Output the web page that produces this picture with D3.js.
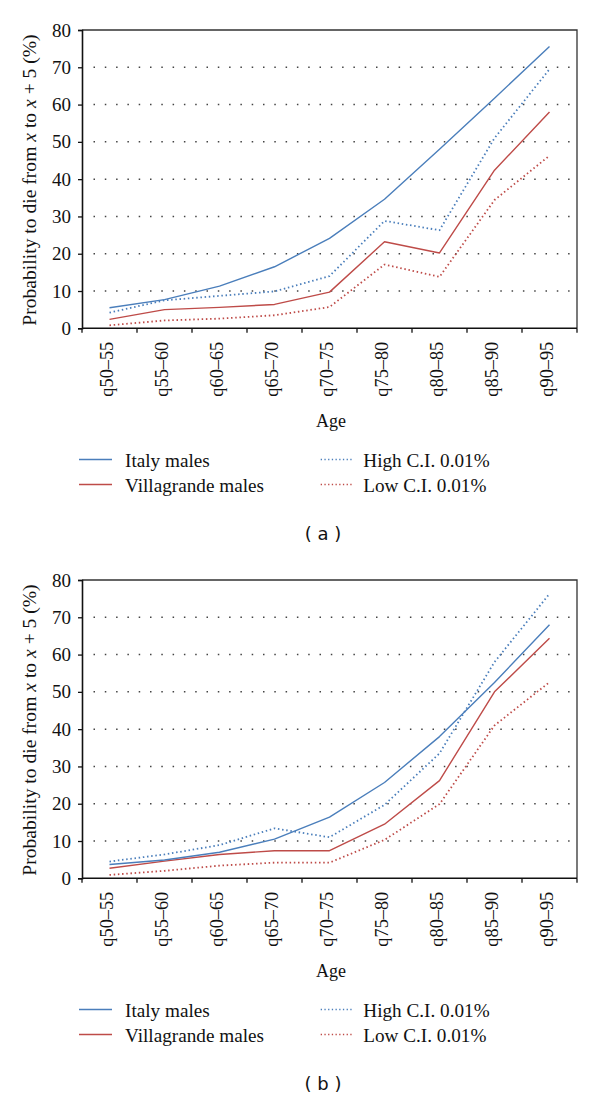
<!DOCTYPE html>
<html>
<head>
<meta charset="utf-8">
<script src="https://cdn.jsdelivr.net/npm/d3@7"></script>
<style>
  html, body { margin: 0; padding: 0; background: #fff; }
  svg { display: block; }
</style>
</head>
<body>
<svg id="chart" width="600" height="1100"></svg>
<script>
// ---- Data ----
const categories = ["q50–55","q55–60","q60–65","q65–70","q70–75","q75–80","q80–85","q85–90","q90–95"];
const yTicks = [0,10,20,30,40,50,60,70,80];

// Panel (a)
const italyA      = [5.5, 7.7, 11.3, 16.5, 24.1, 34.6, 48.0, 61.7, 75.6];
const villagrandeA= [2.4, 5.0, 5.6, 6.4, 9.7, 23.2, 20.2, 42.4, 58.0];
const highCIA     = [4.2, 7.5, 8.7, 9.9, 14.0, 28.8, 26.3, 51.0, 69.5];
const lowCIA      = [0.8, 2.1, 2.6, 3.5, 5.7, 17.1, 13.8, 34.4, 46.3];

// Panel (b)
const italyB      = [3.7, 4.9, 7.0, 10.5, 16.4, 25.7, 38.0, 52.5, 68.0];
const villagrandeB= [2.7, 4.6, 6.4, 7.4, 7.4, 14.5, 26.2, 50.0, 64.4];
const highCIB     = [4.5, 6.4, 8.9, 13.4, 11.0, 19.7, 33.5, 58.0, 76.3];
const lowCIB      = [0.9, 2.0, 3.4, 4.2, 4.2, 10.3, 19.9, 41.0, 52.6];

const legendLabels = ["Italy males","Villagrande males","High C.I. 0.01%","Low C.I. 0.01%"];
const panelLabels = ["( a )","( b )"];

// ---- Styles ----
const BLUE = "#4a7ebb", RED = "#be4b48";
const SERIF = "'Liberation Serif','Times New Roman',serif";

const svg = d3.select("#chart");

function drawPanel(offsetY, italy, villa, high, low, label) {
  const left = 82, right = 577, top = 30, bottom = 328.3;
  const g = svg.append("g").attr("transform", `translate(0,${offsetY})`);

  const x = d3.scaleBand().domain(categories).range([left, right]).padding(0);
  const y = d3.scaleLinear().domain([0, 80]).range([bottom, top]);

  // gridlines (dotted)
  g.append("g").selectAll("line").data(yTicks.filter(t => t > 0 && t < 80)).join("line")
    .attr("x1", left + 11.5).attr("x2", right - 5)
    .attr("y1", d => y(d)).attr("y2", d => y(d))
    .attr("stroke", "#444").attr("stroke-width", 1.5)
    .attr("stroke-dasharray", "1.5,9.8");

  // box top / right
  g.append("path")
    .attr("d", `M${left},${top}H${right}V${bottom}`)
    .attr("fill", "none").attr("stroke", "#333").attr("stroke-width", 1.3);

  // y axis
  const yAxis = d3.axisLeft(y).tickValues(yTicks).tickSize(4).tickPadding(7).tickFormat(d3.format("d"));
  const ya = g.append("g").attr("transform", `translate(${left},0)`).call(yAxis);
  ya.select(".domain").attr("stroke", "#111").attr("stroke-width", 1.6);
  ya.selectAll(".tick line").attr("stroke", "#111").attr("stroke-width", 1.3);
  ya.selectAll(".tick text").attr("font-family", SERIF).attr("font-size", 19).attr("fill", "#111");

  // x axis baseline + boundary ticks
  g.append("line").attr("x1", left).attr("x2", right).attr("y1", bottom).attr("y2", bottom)
    .attr("stroke", "#111").attr("stroke-width", 1.6);
  const bounds = categories.map(c => x(c)).concat([x(categories[categories.length-1]) + x.bandwidth()]);
  g.append("g").selectAll("line").data(bounds).join("line")
    .attr("x1", d => d).attr("x2", d => d).attr("y1", bottom).attr("y2", bottom + 4.5)
    .attr("stroke", "#111").attr("stroke-width", 1.3);

  // x tick labels (rotated)
  g.append("g").selectAll("text").data(categories).join("text")
    .attr("transform", d => `translate(${x(d) + x.bandwidth()/2 + 3.5},${bottom + 13.5}) rotate(-90)`)
    .attr("text-anchor", "end")
    .attr("font-family", SERIF).attr("font-size", 18.3).attr("fill", "#111")
    .text(d => d);

  // y axis title
  const yt = g.append("text")
    .attr("transform", `translate(36,${(32 + 328)/2}) rotate(-90)`)
    .attr("text-anchor", "middle")
    .attr("font-family", SERIF).attr("font-size", 19.6).attr("fill", "#111");
  yt.append("tspan").text("Probability to die from ");
  yt.append("tspan").attr("font-style", "italic").text("x");
  yt.append("tspan").text(" to ");
  yt.append("tspan").attr("font-style", "italic").text("x");
  yt.append("tspan").text(" + 5 (%)");

  // x axis title
  g.append("text").attr("x", 331).attr("y", 427).attr("text-anchor", "middle")
    .attr("font-family", SERIF).attr("font-size", 18).attr("fill", "#111").text("Age");

  // series
  const line = d3.line().x((d, i) => x(categories[i]) + x.bandwidth()/2).y(d => y(d));
  const series = [
    {vals: high, color: BLUE, dotted: true},
    {vals: low, color: RED, dotted: true},
    {vals: villa, color: RED, dotted: false},
    {vals: italy, color: BLUE, dotted: false}
  ];
  series.forEach(s => {
    g.append("path").datum(s.vals).attr("d", line)
      .attr("fill", "none").attr("stroke", s.color)
      .attr("stroke-width", s.dotted ? 1.8 : 1.4)
      .attr("stroke-dasharray", s.dotted ? "1.5,2.7" : null)
      .attr("stroke-linejoin", "round");
  });

  // legend
  const legend = [
    {label: legendLabels[0], color: BLUE, dotted: false, lx: 79, tx: 125, row: 0},
    {label: legendLabels[1], color: RED, dotted: false, lx: 79, tx: 125, row: 1},
    {label: legendLabels[2], color: BLUE, dotted: true, lx: 320.7, tx: 363.3, row: 0},
    {label: legendLabels[3], color: RED, dotted: true, lx: 320.7, tx: 363.3, row: 1}
  ];
  legend.forEach(l => {
    const ly = 459.5 + l.row * 25;
    g.append("line").attr("x1", l.lx).attr("x2", l.lx + 33).attr("y1", ly).attr("y2", ly)
      .attr("stroke", l.color).attr("stroke-width", l.dotted ? 1.6 : 1.4)
      .attr("stroke-dasharray", l.dotted ? "1.3,2.4" : null);
    g.append("text").attr("x", l.tx).attr("y", ly + 7.2)
      .attr("font-family", SERIF).attr("font-size", 19.2).attr("fill", "#111").text(l.label);
  });

  // panel label
  g.append("text").attr("x", 323).attr("y", 540).attr("text-anchor", "middle")
    .attr("font-family", "'DejaVu Sans',Verdana,sans-serif").attr("font-size", 18).attr("fill", "#111")
    .text(label);
}

drawPanel(0, italyA, villagrandeA, highCIA, lowCIA, panelLabels[0]);
drawPanel(550, italyB, villagrandeB, highCIB, lowCIB, panelLabels[1]);
</script>
</body>
</html>
